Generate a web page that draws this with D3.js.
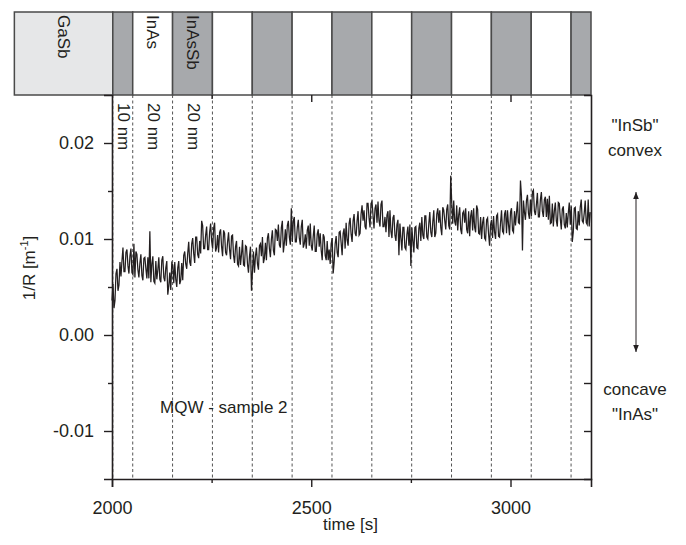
<!DOCTYPE html>
<html><head><meta charset="utf-8">
<script src="https://cdn.jsdelivr.net/npm/d3@7"></script>
<style>
html,body{margin:0;padding:0;background:#fff}
svg{display:block}
text{font-family:"Liberation Sans",Arial,Helvetica,sans-serif;fill:#231f20}
</style>
</head><body>
<svg id="c" width="686" height="545"></svg>
<script>
// ---------- data ----------
const sampleStart = 2000;   // s
const sampleStep = 2.5;     // s between samples
const curvature = [ // 1/R in m^-1
0.0036,0.0053,0.0028,0.0036,0.0064,0.0069,0.0046,0.0052,0.0076,0.0061,0.0077,0.0091,0.0066,0.0066,0.0086,0.0089,0.0072,0.0064,0.0082,0.0090,
0.0065,0.0063,0.0095,0.0060,0.0087,0.0084,0.0068,0.0060,0.0075,0.0084,0.0062,0.0057,0.0080,0.0081,0.0069,0.0059,0.0081,0.0059,0.0108,0.0055,
0.0074,0.0082,0.0056,0.0054,0.0077,0.0058,0.0068,0.0081,0.0058,0.0055,0.0078,0.0082,0.0060,0.0056,0.0070,0.0077,0.0042,0.0051,0.0065,0.0047,
0.0075,0.0073,0.0054,0.0076,0.0058,0.0050,0.0070,0.0077,0.0053,0.0057,0.0075,0.0057,0.0083,0.0087,0.0074,0.0069,0.0085,0.0097,0.0076,0.0072,
0.0095,0.0101,0.0085,0.0075,0.0102,0.0102,0.0084,0.0080,0.0098,0.0085,0.0119,0.0114,0.0090,0.0090,0.0104,0.0113,0.0089,0.0089,0.0107,0.0116,
0.0098,0.0090,0.0111,0.0117,0.0087,0.0091,0.0104,0.0086,0.0107,0.0110,0.0092,0.0082,0.0109,0.0106,0.0086,0.0083,0.0097,0.0107,0.0089,0.0079,
0.0103,0.0104,0.0083,0.0075,0.0092,0.0098,0.0074,0.0072,0.0092,0.0073,0.0084,0.0099,0.0073,0.0072,0.0093,0.0092,0.0074,0.0065,0.0082,0.0092,
0.0046,0.0066,0.0087,0.0065,0.0082,0.0091,0.0074,0.0068,0.0093,0.0095,0.0082,0.0102,0.0075,0.0080,0.0096,0.0078,0.0101,0.0106,0.0090,0.0081,
0.0100,0.0109,0.0088,0.0083,0.0110,0.0109,0.0098,0.0115,0.0094,0.0091,0.0112,0.0119,0.0086,0.0096,0.0110,0.0093,0.0114,0.0119,0.0102,0.0094,
0.0132,0.0097,0.0119,0.0123,0.0097,0.0097,0.0112,0.0120,0.0101,0.0094,0.0113,0.0120,0.0091,0.0095,0.0105,0.0090,0.0109,0.0114,0.0093,0.0116,
0.0093,0.0088,0.0103,0.0114,0.0087,0.0087,0.0105,0.0110,0.0092,0.0106,0.0088,0.0078,0.0105,0.0102,0.0083,0.0078,0.0098,0.0078,0.0089,0.0074,
0.0095,0.0101,0.0064,0.0076,0.0095,0.0103,0.0086,0.0081,0.0107,0.0108,0.0096,0.0083,0.0106,0.0111,0.0090,0.0117,0.0099,0.0093,0.0116,0.0122,
0.0105,0.0097,0.0119,0.0126,0.0106,0.0103,0.0119,0.0129,0.0104,0.0106,0.0126,0.0135,0.0119,0.0130,0.0113,0.0110,0.0137,0.0137,0.0122,0.0112,
0.0137,0.0139,0.0125,0.0111,0.0132,0.0136,0.0117,0.0139,0.0119,0.0113,0.0136,0.0140,0.0113,0.0113,0.0123,0.0107,0.0125,0.0129,0.0102,0.0130,
0.0108,0.0101,0.0122,0.0125,0.0104,0.0098,0.0115,0.0120,0.0083,0.0116,0.0101,0.0088,0.0112,0.0112,0.0091,0.0089,0.0105,0.0113,0.0093,0.0115,
0.0072,0.0112,0.0098,0.0086,0.0112,0.0113,0.0091,0.0090,0.0111,0.0117,0.0098,0.0123,0.0104,0.0100,0.0124,0.0124,0.0102,0.0100,0.0116,0.0128,
0.0107,0.0102,0.0118,0.0130,0.0102,0.0106,0.0126,0.0132,0.0117,0.0130,0.0112,0.0104,0.0133,0.0130,0.0119,0.0110,0.0131,0.0136,0.0114,0.0110,
0.0166,0.0138,0.0116,0.0140,0.0118,0.0114,0.0135,0.0109,0.0125,0.0133,0.0110,0.0105,0.0127,0.0129,0.0117,0.0132,0.0110,0.0106,0.0129,0.0103,
0.0124,0.0130,0.0109,0.0132,0.0112,0.0107,0.0135,0.0131,0.0106,0.0105,0.0123,0.0100,0.0117,0.0123,0.0101,0.0099,0.0120,0.0122,0.0105,0.0093,
0.0115,0.0120,0.0101,0.0124,0.0107,0.0100,0.0124,0.0126,0.0103,0.0102,0.0117,0.0130,0.0108,0.0106,0.0126,0.0130,0.0106,0.0130,0.0115,0.0104,
0.0128,0.0132,0.0109,0.0107,0.0129,0.0114,0.0127,0.0139,0.0117,0.0116,0.0161,0.0145,0.0088,0.0140,0.0128,0.0120,0.0140,0.0146,0.0127,0.0121,
0.0141,0.0124,0.0149,0.0151,0.0129,0.0125,0.0136,0.0148,0.0123,0.0123,0.0141,0.0149,0.0129,0.0123,0.0141,0.0144,0.0123,0.0142,0.0120,0.0145,
0.0116,0.0117,0.0137,0.0113,0.0129,0.0138,0.0119,0.0113,0.0138,0.0137,0.0121,0.0110,0.0131,0.0134,0.0115,0.0111,0.0127,0.0112,0.0127,0.0138,
0.0115,0.0134,0.0097,0.0107,0.0132,0.0133,0.0111,0.0110,0.0129,0.0114,0.0133,0.0141,0.0119,0.0117,0.0127,0.0140,0.0117,0.0115,0.0141,0.0113,
0.0128
];
const xTicksMajor = [2000, 2500, 3000];
const xTicksMinor = [2250, 2750];
const yTicksMajor = [0.02, 0.01, 0.00, -0.01];
const yTickLabels = ["0.02", "0.01", "0.00", "-0.01"];
const yTicksMinor = [0.015, 0.005, -0.005];
// layer stack (growth time boundaries, s)
const substrateEdges = [1755, 2002];
const substrateLabel = "GaSb";
const layerEdges = [2002, 2052, 2152, 2252, 2352, 2452, 2552, 2652, 2752, 2852, 2952, 3052, 3152, 3202];
const layerKinds = ["InAsSb","InAs","InAsSb","InAs","InAsSb","InAs","InAsSb","InAs","InAsSb","InAs","InAsSb","InAs","InAsSb"];
const layerNames = ["", "InAs", "InAsSb"];
const layerThick = ["10 nm", "20 nm", "20 nm"];
const xDomain = [2000, 3202];
const yDomain = [-0.015, 0.025];

// ---------- layout ----------
const L = 112, R = 591, T = 95, B = 479;
const bandTop = 12;
const ink = "#231f20";
const svg = d3.select("#c");
const x = d3.scaleLinear().domain(xDomain).range([L, R]);
const y = d3.scaleLinear().domain(yDomain).range([B, T]);

// ---------- layer band ----------
const band = svg.append("g");
band.append("rect")
  .attr("x", x(substrateEdges[0])).attr("y", bandTop)
  .attr("width", x(substrateEdges[1]) - x(substrateEdges[0])).attr("height", T - bandTop)
  .attr("fill", "#e6e7e8").attr("stroke", "#4a4a4a").attr("stroke-width", 1.5);
band.selectAll("rect.layer").data(layerKinds).join("rect")
  .attr("class", "layer")
  .attr("x", (d, i) => x(layerEdges[i])).attr("y", bandTop)
  .attr("width", (d, i) => x(layerEdges[i + 1]) - x(layerEdges[i])).attr("height", T - bandTop)
  .attr("fill", d => d === "InAsSb" ? "#a7a9ac" : "#ffffff")
  .attr("stroke", "#4a4a4a").attr("stroke-width", 1.5);
band.append("text")
  .attr("transform", `translate(${(x(substrateEdges[0]) + x(substrateEdges[1])) / 2},${bandTop + 3}) rotate(90)`)
  .attr("dominant-baseline", "central").attr("font-size", 17).text(substrateLabel);
layerNames.forEach((nm, i) => {
  if (!nm) return;
  band.append("text")
    .attr("transform", `translate(${(x(layerEdges[i]) + x(layerEdges[i + 1])) / 2},${bandTop + 3}) rotate(90)`)
    .attr("dominant-baseline", "central").attr("font-size", 17).text(nm);
});

// ---------- dashed boundaries ----------
svg.append("g").selectAll("line").data(layerEdges.slice(0, -1)).join("line")
  .attr("x1", d => x(d)).attr("x2", d => x(d)).attr("y1", T).attr("y2", B)
  .attr("stroke", "#555").attr("stroke-width", 1).attr("stroke-dasharray", "3,2.5");

layerThick.forEach((s, i) => {
  svg.append("text")
    .attr("transform", `translate(${(x(layerEdges[i]) + x(layerEdges[i + 1])) / 2 + 1},${T + 8}) rotate(90)`)
    .attr("dominant-baseline", "central").attr("font-size", 17).text(s);
});

// ---------- data line ----------
const line = d3.line()
  .x((d, i) => x(sampleStart + i * sampleStep))
  .y(d => y(d));
svg.append("path").datum(curvature)
  .attr("d", line).attr("fill", "none").attr("stroke", ink)
  .attr("stroke-width", 1.25).attr("stroke-linejoin", "miter");

// ---------- axes ----------
function styleAxis(g) {
  g.selectAll("path.domain").attr("stroke", ink).attr("stroke-width", 1.6);
  g.selectAll(".tick line").attr("stroke", ink).attr("stroke-width", 1.4);
  g.selectAll("text").attr("font-size", 18).attr("fill", ink)
    .attr("font-family", '"Liberation Sans",Arial,Helvetica,sans-serif');
}
// left
const gl = svg.append("g").attr("transform", `translate(${L},0)`)
  .call(d3.axisLeft(y).tickValues(yTicksMajor).tickSize(8).tickPadding(10)
    .tickFormat((d, i) => yTickLabels[i]));
styleAxis(gl);
const glm = svg.append("g").attr("transform", `translate(${L},0)`)
  .call(d3.axisLeft(y).tickValues(yTicksMinor).tickSize(4).tickFormat(""));
styleAxis(glm); glm.select(".domain").remove();
// right
const gr = svg.append("g").attr("transform", `translate(${R},0)`)
  .call(d3.axisRight(y).tickValues(yTicksMajor.concat(yTicksMinor)).tickSize(-7).tickFormat(""));
styleAxis(gr);
// bottom
const gb = svg.append("g").attr("transform", `translate(0,${B})`)
  .call(d3.axisBottom(x).tickValues(xTicksMajor).tickSize(8).tickPadding(14).tickFormat(d3.format("d")));
styleAxis(gb);
const gbm = svg.append("g").attr("transform", `translate(0,${B})`)
  .call(d3.axisBottom(x).tickValues(xTicksMinor).tickSize(4).tickFormat(""));
styleAxis(gbm); gbm.select(".domain").remove();
// top (inward ticks)
const gt = svg.append("g").attr("transform", `translate(0,${T})`)
  .call(d3.axisTop(x).tickValues(xTicksMajor.slice(1)).tickSize(-7).tickFormat(""));
styleAxis(gt); gt.select(".domain").remove();
const gtm = svg.append("g").attr("transform", `translate(0,${T})`)
  .call(d3.axisTop(x).tickValues(xTicksMinor).tickSize(-4).tickFormat(""));
styleAxis(gtm); gtm.select(".domain").remove();

// ---------- axis titles ----------
svg.append("text").attr("x", (L + R) / 2 - 1).attr("y", 530)
  .attr("text-anchor", "middle").attr("font-size", 17).text("time [s]");
const yl = svg.append("text")
  .attr("transform", `translate(35,268) rotate(-90)`)
  .attr("text-anchor", "middle").attr("font-size", 17);
yl.append("tspan").text("1/R [m");
yl.append("tspan").attr("dy", -7).attr("font-size", 11).text("-1");
yl.append("tspan").attr("dy", 7).text("]");

// ---------- annotations ----------
svg.append("text").attr("x", 160).attr("y", 413).attr("font-size", 17).text("MQW - sample 2");
const ax = 636;
[["\"InSb\"", 131], ["convex", 156], ["concave", 395], ["\"InAs\"", 420]].forEach(([t, yy]) => {
  svg.append("text").attr("x", ax - 1).attr("y", yy).attr("text-anchor", "middle")
    .attr("font-size", 17).text(t);
});
const defs = svg.append("defs");
defs.append("marker").attr("id", "ah").attr("viewBox", "0 0 10 10")
  .attr("refX", 10).attr("refY", 5).attr("markerWidth", 7).attr("markerHeight", 9)
  .attr("orient", "auto-start-reverse").attr("markerUnits", "userSpaceOnUse")
  .append("path").attr("d", "M0,1 L10,5 L0,9 Z").attr("fill", ink);
svg.append("line").attr("x1", ax).attr("x2", ax).attr("y1", 192).attr("y2", 352)
  .attr("stroke", ink).attr("stroke-width", 1)
  .attr("marker-start", "url(#ah)").attr("marker-end", "url(#ah)");
</script>
</body></html>
